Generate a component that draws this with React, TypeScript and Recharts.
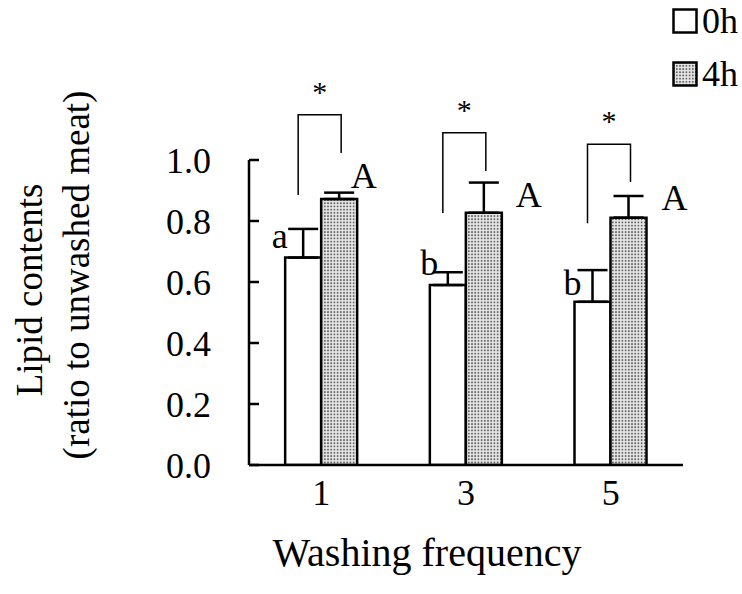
import React from "react";
import {
  BarChart,
  Bar,
  XAxis,
  YAxis,
  ErrorBar,
  Legend,
  LabelList,
} from "recharts";

const categories = ["1", "3", "5"];
const mean0h = [0.68, 0.59, 0.535];
const err0h = [0.094, 0.042, 0.104];
const mean4h = [0.872, 0.827, 0.811];
const err4h = [0.021, 0.099, 0.071];
const letters0h = ["a", "b", "b"];
const letters4h = ["A", "A", "A"];
// significance brackets (y in data units)
const bracketTop = [1.148, 1.089, 1.052];
const bracketLeftEnd = [0.885, 0.826, 0.793];
const bracketRightEnd = [1.023, 0.964, 0.928];
const yTicks = [0, 0.2, 0.4, 0.6, 0.8, 1.0];
const seriesNames = ["0h", "4h"];

const FONT = '"Liberation Serif", "Times New Roman", serif';
const FS = 36;

// label offsets (px) relative to bar corners
const lowDx = [-5.5, -0.5, -2];
const lowDy = [-10, -10, -7];
const highDx = [6.5, 27, 28];
const highDy = [-11, -6, -8];

const chartData = categories.map((c, i) => ({
  cat: c,
  m0: mean0h[i],
  m4: mean4h[i],
  e0: [0, err0h[i]],
  e4: [0, err4h[i]],
}));

const fills = ["#ffffff", "url(#dots)"];

function YTick(props: any) {
  const { x, y, payload } = props;
  const ax = x + 38;
  return (
    <g>
      <line x1={ax} x2={ax + 10} y1={y} y2={y} stroke="#000" strokeWidth={2.5} />
      <text x={x} y={y} dy="0.36em" textAnchor="end" fontSize={FS} fontFamily={FONT} fill="#000">
        {Number(payload.value).toFixed(1)}
      </text>
    </g>
  );
}

function LowLabel(props: any) {
  const { x, y, width, height, value, index } = props;
  const perUnit = height / value;
  const base = y + height;
  const toPx = (v: number) => base - v * perUnit;
  const leftX = x + width / 2 - 5;
  const rightX = x + width * 1.5 + 2;
  const top = toPx(bracketTop[index]);
  return (
    <g>
      <text
        x={x + lowDx[index]}
        y={y + lowDy[index]}
        textAnchor="middle"
        fontSize={FS}
        fontFamily={FONT}
        fill="#000"
      >
        {letters0h[index]}
      </text>
      <polyline
        points={`${leftX},${toPx(bracketLeftEnd[index])} ${leftX},${top} ${rightX},${top} ${rightX},${toPx(bracketRightEnd[index])}`}
        fill="none"
        stroke="#000"
        strokeWidth={1.5}
      />
      <text
        x={(leftX + rightX) / 2}
        y={top - 13}
        textAnchor="middle"
        fontSize={30}
        fontFamily={FONT}
        fill="#000"
      >
        *
      </text>
    </g>
  );
}

function HighLabel(props: any) {
  const { x, y, width, index } = props;
  return (
    <text
      x={x + width + highDx[index]}
      y={y + highDy[index]}
      textAnchor="middle"
      fontSize={FS}
      fontFamily={FONT}
      fill="#000"
    >
      {letters4h[index]}
    </text>
  );
}

function YLabel() {
  const cy1 = 290;
  const cy2 = 275;
  return (
    <g fontSize={37} fontFamily={FONT} fill="#000">
      <text x={42} y={cy1} transform={`rotate(-90 42 ${cy1})`} textAnchor="middle">
        Lipid contents
      </text>
      <text x={89} y={cy2} transform={`rotate(-90 89 ${cy2})`} textAnchor="middle">
        (ratio to unwashed meat)
      </text>
    </g>
  );
}

function LegendBox(props: any) {
  const { payload } = props;
  return (
    <div style={{ fontFamily: FONT, fontSize: FS, color: "#000" }}>
      {(payload || []).map((p: any, i: number) => {
        const idx = seriesNames.indexOf(p.value);
        return (
          <div key={i} style={{ display: "flex", alignItems: "center", height: 53 }}>
            <svg width={26} height={26}>
              <rect x={1.5} y={1.5} width={23} height={23} fill={fills[idx]} stroke="#000" strokeWidth={2.5} />
            </svg>
            <span style={{ marginLeft: 4, lineHeight: 1 }}>{p.value}</span>
          </div>
        );
      })}
    </div>
  );
}

export default function App() {
  return (
    <div style={{ position: "absolute", left: 0, top: 0, background: "#fff" }}>
      <BarChart
        width={742}
        height={594}
        data={chartData}
        margin={{ top: 160, right: 59, left: 0, bottom: 0 }}
        barCategoryGap="25%"
        barGap={0}
      >
        <defs>
          <pattern id="dots" width={3.2} height={3.2} patternUnits="userSpaceOnUse">
            <rect width={3.2} height={3.2} fill="#e4e4e4" />
            <circle cx={1.6} cy={1.6} r={0.9} fill="#4a4a4a" />
          </pattern>
        </defs>
        <XAxis
          dataKey="cat"
          height={129}
          tickLine={false}
          tickSize={0}
          tickMargin={14}
          axisLine={{ stroke: "#000", strokeWidth: 2.5 }}
          tick={{ fontSize: FS, fontFamily: FONT, fill: "#000" }}
          label={{
            value: "Washing frequency",
            position: "insideBottom",
            offset: 28,
            dx: -39,
            style: { fontSize: 40, fontFamily: FONT, fill: "#000" },
          }}
        />
        <YAxis
          width={249}
          domain={[0, 1]}
          allowDataOverflow
          ticks={yTicks}
          tickLine={false}
          tickSize={0}
          tickMargin={38}
          axisLine={{ stroke: "#000", strokeWidth: 2.5 }}
          tick={<YTick />}
          label={<YLabel />}
        />
        <Legend
          verticalAlign="middle"
          align="center"
          layout="vertical"
          content={<LegendBox />}
          wrapperStyle={{ position: "absolute", left: 672, top: -6, width: 70 }}
        />
        <Bar dataKey="m0" name={seriesNames[0]} fill={fills[0]} stroke="#000" strokeWidth={2.5} isAnimationActive={false}>
          <ErrorBar dataKey="e0" width={15} strokeWidth={2.5} stroke="#000" direction="y" />
          <LabelList dataKey="m0" content={<LowLabel />} />
        </Bar>
        <Bar dataKey="m4" name={seriesNames[1]} fill={fills[1]} stroke="#000" strokeWidth={2.5} isAnimationActive={false}>
          <ErrorBar dataKey="e4" width={15} strokeWidth={2.5} stroke="#000" direction="y" />
          <LabelList dataKey="m4" content={<HighLabel />} />
        </Bar>
      </BarChart>
    </div>
  );
}
